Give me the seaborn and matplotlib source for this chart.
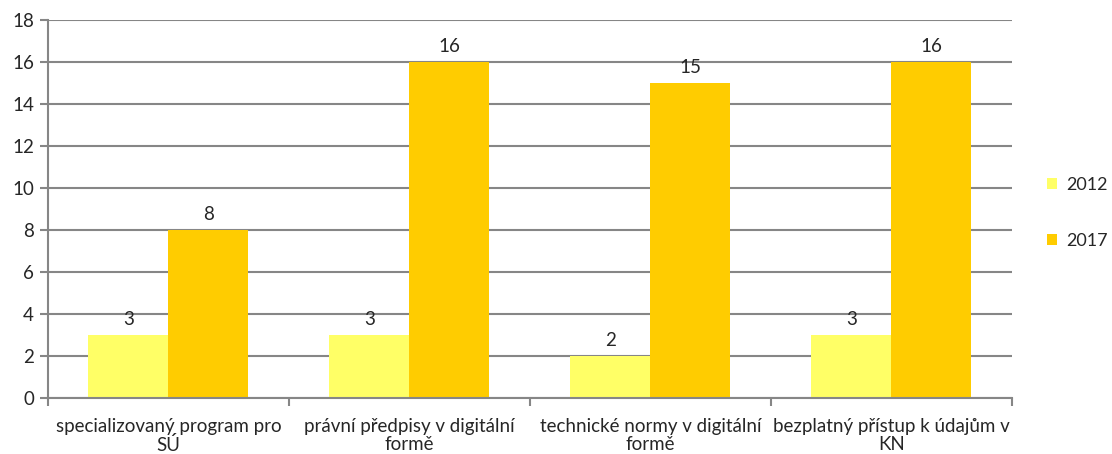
import matplotlib
matplotlib.use("Agg")
import matplotlib.pyplot as plt
import pandas as pd
import seaborn as sns

sns.set_theme(style="white")
plt.rcParams['font.family'] = ['Lato', 'DejaVu Sans']

categories = ['specializovaný program pro\nSÚ',
              'právní předpisy v digitální\nformě',
              'technické normy v digitální\nformě',
              'bezplatný přístup k údajům v\nKN']
years = ['2012', '2017']
values_2012 = [3, 3, 2, 3]
values_2017 = [8, 16, 15, 16]
colors = ['#FFFF66', '#FFCC00']

df = pd.DataFrame({
    'category': categories * 2,
    'year': [years[0]] * 4 + [years[1]] * 4,
    'value': values_2012 + values_2017,
})

fig = plt.figure(figsize=(11.12, 4.54), dpi=100)
ax = fig.add_axes([0.043, 0.123, 0.867, 0.833])
sns.barplot(data=df, x='category', y='value', hue='year', palette=colors,
            width=0.664, saturation=1, linewidth=0, ax=ax, errorbar=None)

grid_color = '#868686'
fs = 13.5
ax.set_ylim(0, 18)
ax.set_yticks(range(0, 19, 2))
ax.set_xlim(-0.5, 3.5)
ax.yaxis.grid(True, color=grid_color, linewidth=1.5)
ax.set_axisbelow(True)
for side in ['top', 'right']:
    ax.spines[side].set_visible(False)
for side in ['left', 'bottom']:
    ax.spines[side].set_color(grid_color)
    ax.spines[side].set_linewidth(1.5)

ax.set_xticks([-0.5, 0.5, 1.5, 2.5, 3.5], minor=True)
ax.tick_params(axis='x', which='minor', length=6, color=grid_color, width=1.5, bottom=True)
ax.tick_params(axis='x', which='major', length=0, labelsize=fs, pad=14)
ax.tick_params(axis='y', length=6, color=grid_color, width=1.5, left=True, labelsize=fs, pad=4)
for lbl in ax.get_xticklabels():
    lbl.set_linespacing(1.1)
ax.set_xlabel('')
ax.set_ylabel('')

for cont in ax.containers:
    ax.bar_label(cont, fontsize=fs, padding=5)

ax.legend(loc='center left', bbox_to_anchor=(1.036, 0.49), frameon=False,
          fontsize=13, handlelength=0.6, handleheight=0.6, labelspacing=2.2,
          handletextpad=0.5, borderaxespad=0, borderpad=0)

fig.savefig('out.png', dpi=100)
